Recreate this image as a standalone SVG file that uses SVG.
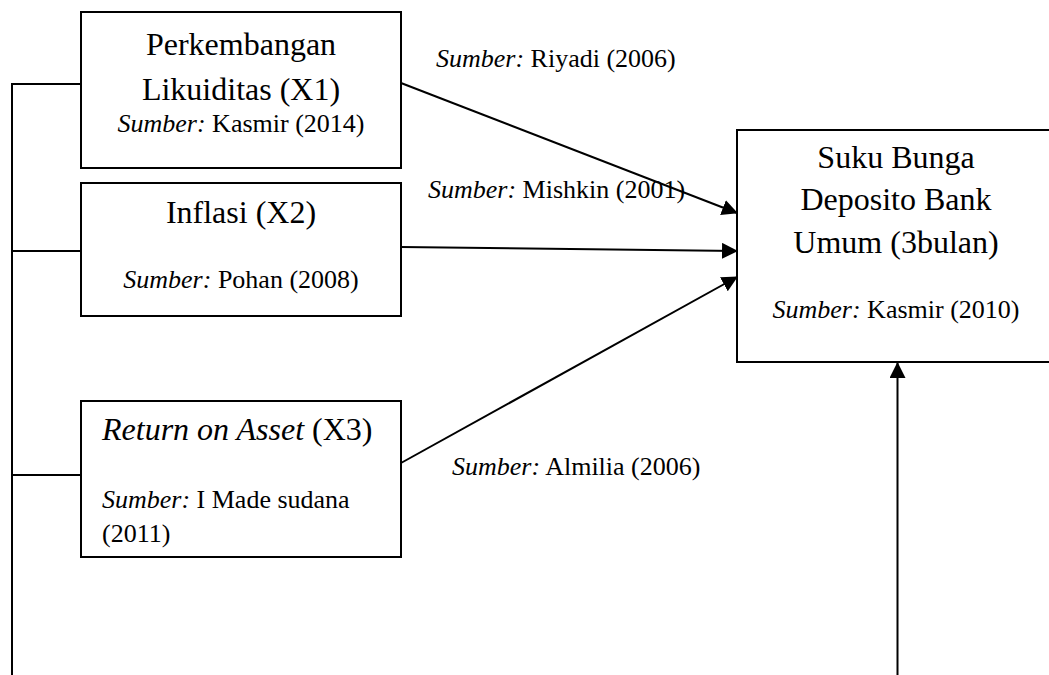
<svg xmlns="http://www.w3.org/2000/svg" width="1049" height="675" viewBox="0 0 1049 675">
<style>
.box{fill:#fff;stroke:#000;stroke-width:2}
.ln{fill:none;stroke:#000;stroke-width:2}
.t{font-family:"Liberation Serif","Times New Roman",serif;fill:#000}
.big{font-size:32px}
.sm{font-size:26px}
.c{text-anchor:middle}
.i{font-style:italic}
</style>
<defs>
<marker id="ah" markerUnits="userSpaceOnUse" markerWidth="16" markerHeight="16" viewBox="0 0 16 16" refX="15" refY="8" orient="auto">
<path d="M0,0 L16,8 L0,16 Z" fill="#000"/>
</marker>
</defs>
<rect width="1049" height="675" fill="#fff"/>
<g id="connectors">
<path class="ln" d="M12,675 V84 H81"/>
<path class="ln" d="M12,251 H81"/>
<path class="ln" d="M12,475 H81"/>
<line class="ln" x1="401" y1="83" x2="737" y2="213" marker-end="url(#ah)"/>
<line class="ln" x1="401" y1="247" x2="737" y2="251" marker-end="url(#ah)"/>
<line class="ln" x1="401" y1="463" x2="737" y2="277" marker-end="url(#ah)"/>
<line class="ln" x1="897.5" y1="675" x2="897.5" y2="363" marker-end="url(#ah)"/>
</g>
<g id="label-riyadi"><text class="t sm" x="436" y="67"><tspan class="i">Sumber:</tspan> Riyadi (2006)</text></g>
<g id="label-mishkin"><text class="t sm" x="428" y="198"><tspan class="i">Sumber:</tspan> Mishkin (2001)</text></g>
<g id="label-almilia"><text class="t sm" x="452" y="475"><tspan class="i">Sumber:</tspan> Almilia (2006)</text></g>
<g id="x1">
<rect class="box" x="81" y="12" width="320" height="156"/>
<text class="t big c" x="241" y="55">Perkembangan</text>
<text class="t big c" x="241" y="100">Likuiditas (X1)</text>
<text class="t sm c" x="241" y="132"><tspan class="i">Sumber:</tspan> Kasmir (2014)</text>
</g>
<g id="x2">
<rect class="box" x="81" y="183" width="320" height="133"/>
<text class="t big c" x="241" y="223">Inflasi (X2)</text>
<text class="t sm c" x="241" y="288"><tspan class="i">Sumber:</tspan> Pohan (2008)</text>
</g>
<g id="x3">
<rect class="box" x="81" y="401" width="320" height="156"/>
<text class="t big" x="102" y="440"><tspan class="i">Return on Asset</tspan> (X3)</text>
<text class="t sm" x="102" y="508"><tspan class="i">Sumber:</tspan> I Made sudana</text>
<text class="t sm" x="102" y="542">(2011)</text>
</g>
<g id="y">
<rect class="box" x="737" y="130" width="320" height="232"/>
<text class="t big c" x="896" y="168">Suku Bunga</text>
<text class="t big c" x="896" y="210">Deposito Bank</text>
<text class="t big c" x="896" y="253">Umum (3bulan)</text>
<text class="t sm c" x="896" y="318"><tspan class="i">Sumber:</tspan> Kasmir (2010)</text>
</g>
</svg>
